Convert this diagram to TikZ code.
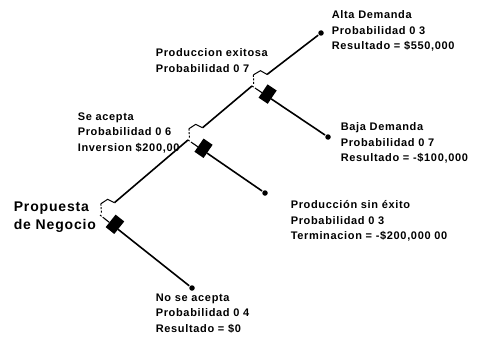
\documentclass[tikz,border=0pt]{standalone}
\usepackage{fontspec}
\usepackage{tikz}
\usetikzlibrary{calc}
\newfontfamily\treefont{Liberation Sans}[LetterSpace=6]
\newcommand{\lblfont}{\treefont\bfseries\fontsize{11}{15.5}\selectfont}
\newcommand{\rootfont}{\treefont\bfseries\fontsize{14}{18}\selectfont}

\begin{document}
\begin{tikzpicture}[x=1pt,y=1pt,line width=1.6pt,
  lbl/.style={anchor=north west,align=left,inner sep=0pt,font=\lblfont},
  leaf/.style={circle,fill,inner sep=0pt,minimum size=5.5pt}]
\useasboundingbox (0,0) rectangle (477,341);
% decision points
\coordinate (f1) at (100,126);
\coordinate (f2) at (188,201);
\coordinate (f3) at (252,255);
% end points
\node[leaf] (alta) at (321,308) {};
\node[leaf] (baja) at (328,204) {};
\node[leaf] (sinexito) at (265,148) {};
\node[leaf] (noacepta) at (192,53) {};
% open branches
\foreach \a/\b in {f1/f2,f2/f3,f3/alta} {
  \draw ($(\a)!19pt!(\b)$) -- (\b);
  \draw[line width=1pt] ($(\a)!19pt!(\b)$) -- ($(\a)!16pt!(\b)!7pt!90:(\b)$)
    -- ($(\a)!8pt!(\b)!8pt!90:(\b)$);
  \draw[line width=1pt,dashed,dash pattern=on 2pt off 1.5pt] ($(\a)!8pt!(\b)!8pt!90:(\b)$)
    -- ($(\a)!2pt!(\b)$);
}
% closed branches
\foreach \a/\b in {f1/noacepta,f2/sinexito,f3/baja} {
  \draw[line width=1pt,dashed,dash pattern=on 2pt off 1.5pt] (\a) -- ($(\a)!5pt!(\b)$);
  \draw[line width=1.1pt] ($(\a)!5pt!(\b)$) -- ($(\a)!12pt!(\b)$);
  \fill ($(\a)!12pt!(\b)!10pt!90:(\b)$) -- ($(\a)!23pt!(\b)!10pt!90:(\b)$)
    -- ($(\a)!23pt!(\b)!6pt!-90:(\b)$) -- ($(\a)!12pt!(\b)!6pt!-90:(\b)$) -- cycle;
  \draw ($(\a)!23pt!(\b)$) -- (\b);
}
% labels
\node[anchor=north west,align=left,inner sep=0pt,font=\rootfont] (propuesta) at (13,140)
  {Propuesta\\de Negocio};
\node[lbl] (altalbl) at (331,331) {Alta Demanda\\Probabilidad 0 3\\Resultado = \$550,000};
\node[lbl] (exitosa) at (155,293) {Produccion exitosa\\Probabilidad 0 7};
\node[lbl] (acepta) at (77,229) {Se acepta\\Probabilidad 0 6\\Inversion \$200,00};
\node[lbl] (bajalbl) at (340,219) {Baja Demanda\\Probabilidad 0 7\\Resultado = -\$100,000};
\node[lbl] (sinlbl) at (290,141) {Producción sin éxito\\Probabilidad 0 3\\Terminacion = -\$200,000 00};
\node[lbl] (nolbl) at (155,48) {No se acepta\\Probabilidad 0 4\\Resultado = \$0};
\end{tikzpicture}
\end{document}
